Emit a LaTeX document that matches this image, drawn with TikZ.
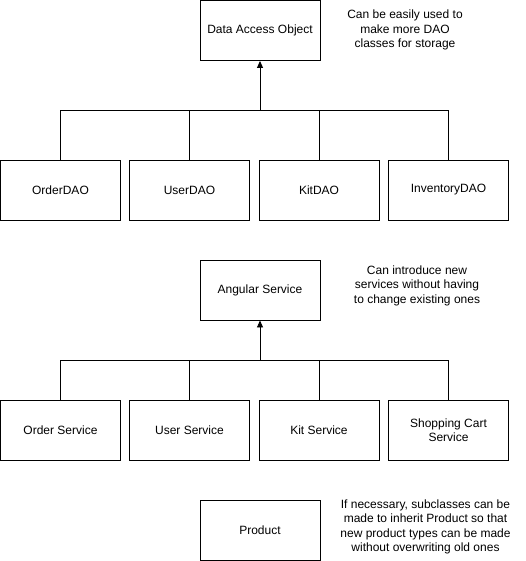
\documentclass[tikz,border=0pt]{standalone}
\usepackage{fontspec}
\setmainfont{Liberation Sans}
\usetikzlibrary{arrows.meta}
\begin{document}
\begin{tikzpicture}[x=1pt,y=-1pt,
  box/.style={draw=black,line width=0.9pt,minimum width=120pt,minimum height=60pt,inner sep=0pt,align=center,font=\fontsize{12}{14}\selectfont},
  note/.style={align=center,inner sep=0pt,font=\fontsize{12}{14.5}\selectfont},
  arr/.style={draw=black,line width=0.9pt,-{Triangle[width=6pt,length=7pt]}},
  lin/.style={draw=black,line width=0.9pt}]
\useasboundingbox (0,0) rectangle (526,561);
% DAO group
\node[box] (dao) at (260,30.5) {Data Access Object};
\node[note] (daon) at (405,30) {Can be easily used to\\make more DAO\\classes for storage};
\node[box] (odao) at (60.5,190) {OrderDAO};
\node[box] (udao) at (189.5,190) {UserDAO};
\node[box] (kdao) at (319,190) {KitDAO};
\node[box] (idao) at (448.5,190) {InventoryDAO};
\coordinate (dj) at (260,110);
\draw[lin] (odao.north) |- (dj);
\draw[lin] (udao.north) |- (dj);
\draw[lin] (kdao.north) |- (dj);
\draw[lin] (idao.north) |- (dj);
\draw[arr] (dj) -- (dao.south);
% Service group
\node[box] (ang) at (260,290) {Angular Service};
\node[note] (angn) at (417,285.5) {Can introduce new\\services without having\\to change existing ones};
\node[box] (os) at (60.5,430) {Order Service};
\node[box] (us) at (189.5,430) {User Service};
\node[box] (ks) at (319,430) {Kit Service};
\node[box] (ss) at (448.5,430) {Shopping Cart\\Service};
\coordinate (sj) at (260,360);
\draw[lin] (os.north) |- (sj);
\draw[lin] (us.north) |- (sj);
\draw[lin] (ks.north) |- (sj);
\draw[lin] (ss.north) |- (sj);
\draw[arr] (sj) -- (ang.south);
% Product
\node[box] (prod) at (260,530) {Product};
\node[note] (prodn) at (425.5,527) {If necessary, subclasses can be\\made to inherit Product so that\\new product types can be made\\without overwriting old ones};
\end{tikzpicture}
\end{document}
